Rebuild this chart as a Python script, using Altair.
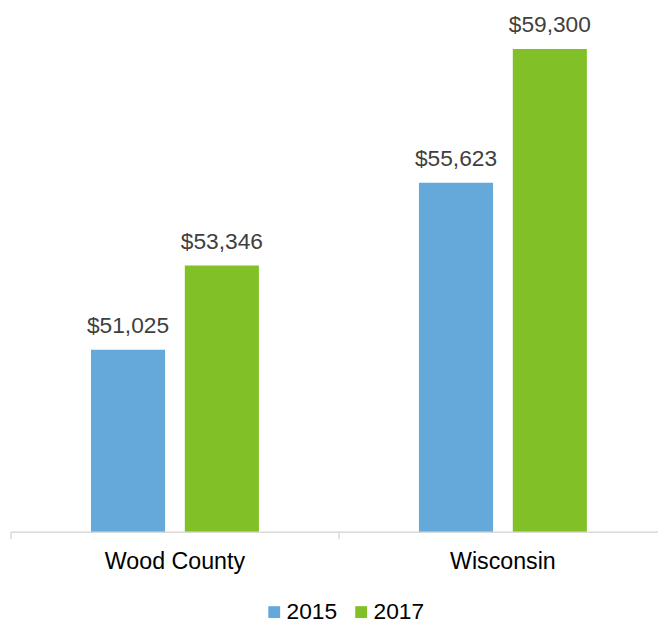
import altair as alt
import pandas as pd

regions = ["Wood County", "Wood County", "Wisconsin", "Wisconsin"]
years = ["2015", "2017", "2015", "2017"]
incomes = [51025, 53346, 55623, 59300]
labels = ["$51,025", "$53,346", "$55,623", "$59,300"]
region_order = ["Wood County", "Wisconsin"]
year_order = ["2015", "2017"]
colors = ["#65A9DB", "#81C127"]

df = pd.DataFrame({"region": regions, "year": years, "income": incomes, "label": labels})

FONT = "Liberation Sans"
GRID = "#d9d9d9"

xscale = alt.Scale(rangeMax=664, paddingInner=0, paddingOuter=0)

x = alt.X(
    "region:N",
    sort=region_order,
    title=None,
    scale=xscale,
    axis=alt.Axis(
        ticks=False,
        domain=False,
        labelFontSize=23.5,
        labelFont=FONT,
        labelColor="#000000",
        labelPadding=18,
        labelAngle=0,
    ),
)
xoff = alt.XOffset(
    "year:N",
    sort=year_order,
    scale=alt.Scale(paddingInner=0.2105, paddingOuter=0.8526),
)
y = alt.Y(
    "income:Q",
    scale=alt.Scale(domain=[46000, 60000], zero=False, nice=False),
    axis=None,
)
color = alt.Color(
    "year:N",
    sort=year_order,
    scale=alt.Scale(domain=year_order, range=colors),
    legend=alt.Legend(
        title=None,
        orient="none",
        direction="horizontal",
        legendX=255,
        legendY=584,
        symbolType="square",
        symbolSize=144,
        symbolStrokeWidth=0,
        symbolOpacity=1,
        labelFontSize=23,
        labelFont=FONT,
        labelColor="#000000",
        labelOffset=1,
        columnPadding=12,
    ),
)

base = alt.Chart(df).encode(x=x, xOffset=xoff, y=y)

bars = base.mark_bar(clip=True).encode(color=color)
text = base.mark_text(
    dy=-17, baseline="alphabetic", fontSize=23, font=FONT, color="#404040"
).encode(text="label:N")

ticks = alt.Chart(df).mark_rule(color=GRID, strokeWidth=1).encode(
    x=alt.X("region:N", sort=region_order, bandPosition=0),
    y=alt.value(515),
    y2=alt.value(522),
)

baseline = alt.Chart(df).mark_rule(color=GRID, strokeWidth=1).encode(
    x=alt.value(0),
    x2=alt.value(655),
    y=alt.value(515),
)

chart = (
    alt.layer(bars, text, ticks, baseline)
    .properties(
        width=655,
        height=515,
        autosize=alt.AutoSizeParams(type="none"),
        padding={"left": 3, "top": 12, "right": 0, "bottom": 90},
    )
    .configure_view(stroke=None)
)

chart.save("out.html", embed_options={"renderer": "svg", "actions": False})
